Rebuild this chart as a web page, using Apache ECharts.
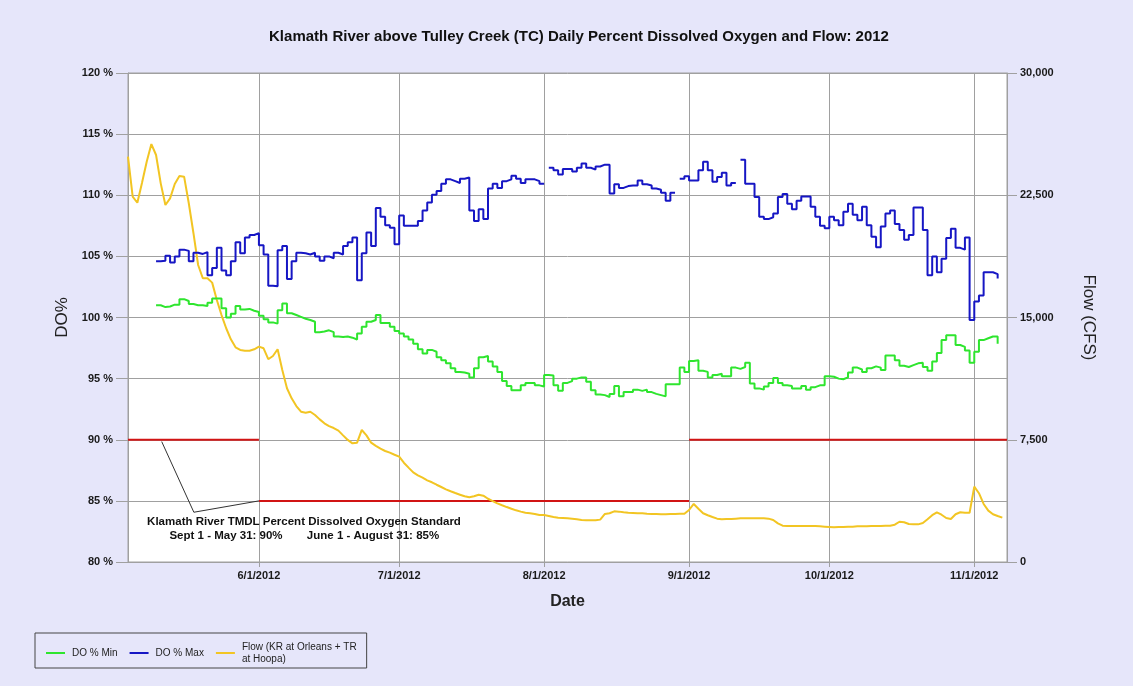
<!DOCTYPE html>
<html>
<head>
<meta charset="utf-8">
<script src="https://cdn.jsdelivr.net/npm/echarts@6/dist/echarts.min.js"></script>
<style>
html,body{margin:0;padding:0;background:#E6E6FA;}
#chart{width:1133px;height:686px;}
</style>
</head>
<body>
<div id="chart"></div>
<script>
// ---------------- DATA ----------------
const chartTitle = 'Klamath River above Tulley Creek (TC) Daily Percent Dissolved Oxygen and Flow: 2012';
const xStart = '2012-05-04';
const xEnd = '2012-11-08';

// Daily DO values, starting 2012-05-10 (null = no data)
const doStartDate = '2012-05-10';
const doMaxMay = [104.6,104.65,105.05,104.5,105.0,105.55,105.45,104.6,105.3,105.2,105.35,103.45,104.05,105.7,103.85,103.45,104.6,106.15,105.25,106.55,106.75,106.9];
const doMaxJun = [105.9,105.15,102.6,102.55,105.5,105.85,103.15,104.6,105.3,105.25,105.15,105.3,105.0,104.65,105.0,104.85,105.3,105.15,105.85,106.15,106.55,103.05,105.25,106.95,105.85,108.95,108.25,107.55,107.35,106.0];
const doMaxJul = [108.35,107.5,107.5,107.5,107.9,108.75,109.4,110.05,110.35,110.95,111.3,111.15,111.0,111.35,111.45,108.75,107.9,108.85,108.05,110.55,110.95,110.6,111.15,111.3,111.6,111.35,111.0,111.3,111.3,111.15,110.95];
const doMaxAug = [null,112.25,112.05,111.7,112.15,112.15,111.95,112.25,112.6,112.25,112.1,112.35,112.5,112.5,110.15,110.9,110.6,110.75,110.8,110.8,111.2,110.9,110.8,110.55,110.45,110.2,109.55,110.2,null,111.35,111.55];
const doMaxSep = [111.2,111.2,112.05,112.75,112.05,111.1,111.5,111.85,110.8,111.0,null,112.9,110.95,110.95,109.85,108.25,108.05,108.2,108.5,109.85,110.1,109.3,108.85,109.55,109.9,109.9,109.05,108.25,107.5,107.3];
const doMaxOct = [108.25,107.95,107.55,108.65,109.3,108.4,107.95,109.05,107.55,106.6,105.75,107.45,108.5,108.75,107.65,107.15,106.35,106.75,109.0,109.0,107.15,103.45,105.0,103.7,104.8,106.5,107.25,105.7,105.55,106.55,99.8];
const doMaxNov = [101.3,101.8,103.7,103.7,103.55,103.2];

const doMinMay = [101.0,100.85,100.9,101.05,101.05,101.5,101.35,101.1,101.0,101.0,100.95,101.2,101.55,101.55,100.75,100.0,100.3,100.95,100.65,100.7,100.55,100.45];
const doMinJun = [100.15,99.85,99.6,99.5,100.6,101.15,100.35,100.2,100.05,99.9,99.8,99.65,98.8,98.85,98.95,98.8,98.45,98.4,98.45,98.35,98.2,98.7,99.25,99.65,99.8,100.2,99.55,99.55,99.25,98.9];
const doMinJul = [98.7,98.45,98.2,97.85,97.4,97.05,97.35,97.2,96.75,96.5,96.25,95.85,95.55,95.5,95.4,95.1,95.85,96.75,96.85,96.4,96.0,95.55,94.8,94.4,94.05,94.05,94.45,94.65,94.65,94.45,94.35];
const doMinAug = [95.3,95.25,94.45,94.0,94.65,94.8,95.0,95.1,95.1,94.75,94.05,93.7,93.65,93.5,93.75,94.4,93.55,93.9,93.9,94.1,94.0,94.1,93.9,93.75,93.65,93.55,94.55,94.55,94.55,95.9,95.55];
const doMinSep = [96.45,96.5,95.65,95.55,95.1,95.3,95.4,95.2,95.2,95.9,95.8,95.95,96.3,94.6,94.2,94.1,94.35,94.65,95.05,94.65,94.45,94.4,94.2,94.2,94.4,94.1,94.3,94.45,94.45,95.2];
const doMinOct = [95.15,95.0,94.95,95.1,95.5,95.9,95.75,95.55,95.85,96.0,95.9,95.7,96.9,96.9,96.5,96.05,95.95,96.1,96.25,96.3,95.95,95.65,96.4,97.1,98.15,98.55,98.55,97.75,97.6,97.3,96.3];
const doMinNov = [97.2,98.15,98.3,98.45,98.45,97.85];

// Daily flow (CFS), starting 2012-05-04
const flowStartDate = '2012-05-04';
const flowMay = [24870,22410,22040,23270,24560,25640,24970,23230,21900,22310,23190,23680,23640,22010,20170,18220,17410,17410,17140,16070,15150,14340,13660,13170,13010,12960,12960,13050];
const flowJun = [13210,13110,12440,12640,13050,11780,10660,10040,9570,9220,9160,9220,9020,8750,8510,8340,8220,8060,7770,7490,7280,7320,8100,7770,7320,7120,6950,6810,6710,6580];
const flowJul = [6460,6090,5790,5500,5320,5170,5010,4890,4740,4600,4460,4340,4230,4130,4030,3970,4030,4130,4070,3880,3740,3600,3480,3370,3270,3170,3090,3020,2990,2950,2880];
const flowAug = [2880,2820,2760,2720,2700,2680,2660,2620,2580,2560,2560,2560,2600,2950,2990,3110,3090,3050,3020,3010,2990,2990,2960,2950,2950,2930,2930,2950,2950,2960,2960];
const flowSep = [3190,3560,3270,2990,2870,2760,2660,2620,2640,2640,2660,2680,2680,2680,2680,2680,2680,2660,2580,2370,2230,2210,2210,2210,2210,2210,2210,2210,2190,2170];
const flowOct = [2150,2130,2150,2150,2170,2170,2190,2190,2190,2210,2210,2210,2230,2230,2290,2470,2440,2330,2310,2310,2390,2620,2870,3050,2900,2700,2640,2930,3050,3020,3020];
const flowNov = [4620,4220,3560,3150,2930,2820,2720];

// TMDL standard (percent) periods
const standardPeriods = [
  ['2012-05-04', '2012-06-01', 90],
  ['2012-06-01', '2012-09-01', 85],
  ['2012-09-01', '2012-11-08', 90]
];
// Annotation leader line points [date time, percent]
const leaderPoints = [['2012-05-11 05:00', 89.85], ['2012-05-18 02:00', 84.07], ['2012-06-01 00:00', 85]];

const seriesNames = ['DO % Min', 'DO % Max', 'Flow (KR at Orleans + TR at Hoopa)'];
const annotationTitle = 'Klamath River TMDL Percent Dissolved Oxygen Standard';
const annotationLeft = 'Sept 1 - May 31: 90%';
const annotationRight = 'June 1 - August 31: 85%';

// ---------------- HELPERS ----------------
function parseTime(s) {
  const parts = s.split(' ');
  const [y, m, d] = parts[0].split('-').map(Number);
  let h = 0, mi = 0;
  if (parts[1]) { [h, mi] = parts[1].split(':').map(Number); }
  return new Date(y, m - 1, d, h, mi).getTime();
}
function dayAfter(s, n) {
  const [y, m, d] = s.split('-').map(Number);
  return new Date(y, m - 1, d + n).getTime();
}
// daily values drawn as steps: each value holds for its whole day
function stepData(start, values) {
  const out = [];
  for (let i = 0; i < values.length; i++) {
    const v = values[i];
    if (v == null) { out.push([dayAfter(start, i), null]); continue; }
    out.push([dayAfter(start, i), v]);
    if (i + 1 < values.length) out.push([dayAfter(start, i + 1), v]);
  }
  return out;
}
function dailyData(start, values) {
  return values.map((v, i) => [dayAfter(start, i), v]);
}

const doMax = [].concat(doMaxMay, doMaxJun, doMaxJul, doMaxAug, doMaxSep, doMaxOct, doMaxNov);
const doMin = [].concat(doMinMay, doMinJun, doMinJul, doMinAug, doMinSep, doMinOct, doMinNov);
const flow = [].concat(flowMay, flowJun, flowJul, flowAug, flowSep, flowOct, flowNov);

const standardData = [];
standardPeriods.forEach((p, i) => {
  if (i > 0) standardData.push([parseTime(p[0]), null]);
  standardData.push([parseTime(p[0]), p[2]]);
  standardData.push([parseTime(p[1]), p[2]]);
});
const leaderData = leaderPoints.map(p => [parseTime(p[0]), p[1]]);

// ---------------- CHART ----------------
const FONT = '"Liberation Sans", Arial, sans-serif';
const GRID = '#A0A0A0';
const chart = echarts.init(document.getElementById('chart'));

chart.setOption({
  backgroundColor: '#E6E6FA',
  animation: false,
  textStyle: { fontFamily: FONT },
  title: {
    text: chartTitle,
    left: 574,
    textAlign: 'center',
    top: 24,
    textStyle: { fontSize: 15, fontWeight: 'bold', color: '#111', fontFamily: FONT }
  },
  grid: {
    left: 128, right: 126, top: 73, bottom: 124, containLabel: false,
    show: true, backgroundColor: '#FFFFFF', borderColor: GRID, borderWidth: 1
  },
  legend: {
    left: 35,
    top: 633,
    orient: 'horizontal',
    padding: [8, 10, 3, 11],
    itemGap: 12,
    itemWidth: 19,
    itemHeight: 2,
    icon: 'rect',
    borderColor: '#444',
    borderWidth: 1,
    backgroundColor: '#E6E6FA',
    data: seriesNames,
    formatter: n => n === seriesNames[2] ? 'Flow (KR at Orleans + TR\nat Hoopa)' : n,
    textStyle: { fontSize: 10, color: '#222', fontFamily: FONT, lineHeight: 12, padding: [0, 0, 0, 2] }
  },
  xAxis: {
    type: 'time',
    min: parseTime(xStart),
    max: parseTime(xEnd),
    splitNumber: 6,
    name: 'Date',
    nameLocation: 'middle',
    nameGap: 32,
    nameTextStyle: { fontSize: 16, fontWeight: 'bold', color: '#222', fontFamily: FONT },
    axisLine: { show: true, lineStyle: { color: GRID, width: 1 } },
    axisTick: { show: true, length: 5, lineStyle: { color: GRID } },
    splitLine: { show: true, lineStyle: { color: GRID, width: 1 } },
    axisLabel: {
      showMinLabel: false,
      showMaxLabel: false,
      margin: 8,
      fontSize: 11,
      fontWeight: 'bold',
      color: '#1a1a1a',
      fontFamily: FONT,
      formatter: function (val) {
        const d = new Date(val);
        return (d.getMonth() + 1) + '/' + d.getDate() + '/' + d.getFullYear();
      }
    }
  },
  yAxis: [
    {
      type: 'value',
      min: 80, max: 120, interval: 5,
      position: 'left',
      name: 'DO%',
      nameLocation: 'middle',
      nameRotate: 90,
      nameGap: 56,
      nameTextStyle: { fontSize: 17, color: '#222', fontFamily: FONT },
      axisLine: { show: true, lineStyle: { color: GRID, width: 1 } },
      axisTick: { show: true, length: 12, lineStyle: { color: GRID } },
      splitLine: { show: true, lineStyle: { color: GRID, width: 1 } },
      axisLabel: { formatter: '{value} %', margin: 15, fontSize: 11, fontWeight: 'bold', color: '#1a1a1a', fontFamily: FONT }
    },
    {
      type: 'value',
      min: 0, max: 30000, interval: 7500,
      position: 'right',
      name: 'Flow (CFS)',
      nameLocation: 'middle',
      nameRotate: -90,
      nameGap: 73,
      nameTextStyle: { fontSize: 17, color: '#222', fontFamily: FONT },
      axisLine: { show: true, lineStyle: { color: GRID, width: 1 } },
      axisTick: { show: true, length: 10, lineStyle: { color: GRID } },
      splitLine: { show: false },
      axisLabel: {
        formatter: v => v.toLocaleString('en-US'),
        margin: 13, fontSize: 11, fontWeight: 'bold', color: '#1a1a1a', fontFamily: FONT
      }
    }
  ],
  series: [
    {
      name: 'TMDL Standard',
      type: 'line',
      yAxisIndex: 0,
      data: standardData,
      showSymbol: false,
      connectNulls: false,
      lineStyle: { color: '#D11414', width: 2 },
      itemStyle: { color: '#D11414' },
      silent: true,
      z: 2
    },
    {
      name: 'Leader',
      type: 'line',
      yAxisIndex: 0,
      data: leaderData,
      showSymbol: false,
      lineStyle: { color: '#333', width: 1 },
      itemStyle: { color: '#333' },
      silent: true,
      z: 2
    },
    {
      name: seriesNames[2],
      type: 'line',
      yAxisIndex: 1,
      data: dailyData(flowStartDate, flow),
      showSymbol: false,
      lineStyle: { color: '#F2C523', width: 2 },
      itemStyle: { color: '#F2C523' },
      z: 3
    },
    {
      name: seriesNames[0],
      type: 'line',
      yAxisIndex: 0,
      data: stepData(doStartDate, doMin),
      showSymbol: false,
      connectNulls: false,
      lineStyle: { color: '#2EE52E', width: 2 },
      itemStyle: { color: '#2EE52E' },
      z: 4
    },
    {
      name: seriesNames[1],
      type: 'line',
      yAxisIndex: 0,
      data: stepData(doStartDate, doMax),
      showSymbol: false,
      connectNulls: false,
      lineStyle: { color: '#1616C4', width: 2 },
      itemStyle: { color: '#1616C4' },
      z: 5
    }
  ],
  graphic: [
    {
      type: 'text', x: 304, y: 522, z: 10,
      style: { text: annotationTitle, align: 'center', verticalAlign: 'middle', fontSize: 11.5, fontWeight: 'bold', fontFamily: FONT, fill: '#111' }
    },
    {
      type: 'text', x: 226, y: 536, z: 10,
      style: { text: annotationLeft, align: 'center', verticalAlign: 'middle', fontSize: 11.5, fontWeight: 'bold', fontFamily: FONT, fill: '#111' }
    },
    {
      type: 'text', x: 373, y: 536, z: 10,
      style: { text: annotationRight, align: 'center', verticalAlign: 'middle', fontSize: 11.5, fontWeight: 'bold', fontFamily: FONT, fill: '#111' }
    }
  ]
});
</script>
</body>
</html>
